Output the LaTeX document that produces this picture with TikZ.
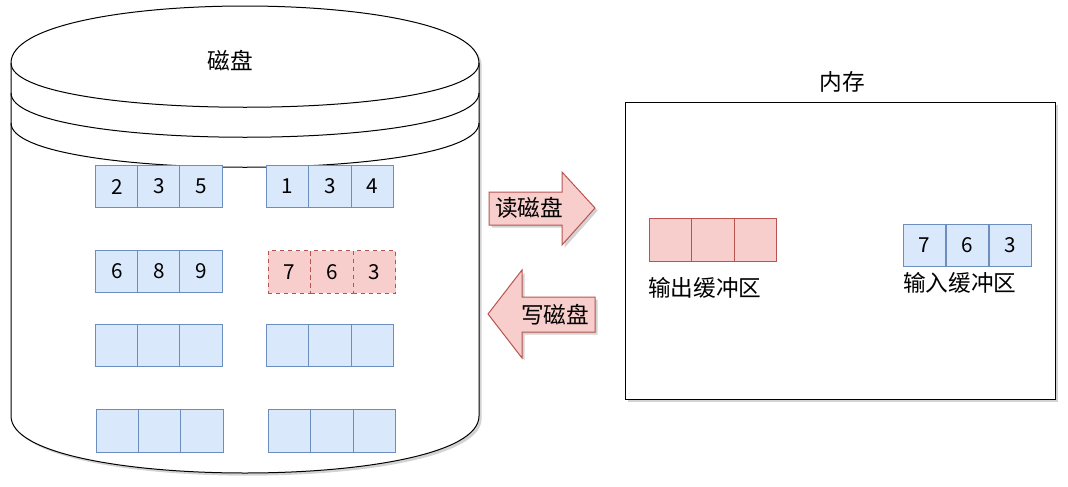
\documentclass[tikz,border=0pt]{standalone}
\usepackage{fontspec}
\setmainfont{Noto Sans CJK SC}
\usetikzlibrary{shadows}
\definecolor{bfill}{HTML}{DAE8FC}
\definecolor{bline}{HTML}{6C8EBF}
\definecolor{rfill}{HTML}{F8CECC}
\definecolor{rline}{HTML}{B85450}
\tikzset{
  shadowed/.style={drop shadow={opacity=0.35,shadow xshift=2pt,shadow yshift=-2pt}},
  cell/.style={draw=bline,fill=bfill,line width=0.75pt,minimum width=31.9pt,minimum height=31.9pt,inner sep=0pt,font=\fontsize{15.5}{17}\selectfont},
  rcell/.style={cell,draw=rline,fill=rfill},
  dcell/.style={rcell,dashed},
  lab/.style={inner sep=0pt,font=\fontsize{17}{20}\selectfont},
  shape line/.style={draw=black,line width=0.75pt},
  arrowshape/.style={draw=rline,fill=rfill,line width=0.75pt,shadowed}
}
\begin{document}
\begin{tikzpicture}[x=0.75pt,y=-0.75pt]
\useasboundingbox (0,0) rectangle (1068,486);
% disk cylinder
\path[shape line,fill=white,shadowed] (11,63) .. controls (11,-13) and (479,-13) .. (479,63) -- (479,416) .. controls (479,492) and (11,492) .. (11,416) -- cycle;
\draw[shape line] (11,63) .. controls (11,122) and (479,122) .. (479,63);
\draw[shape line] (11,93) .. controls (11,152) and (479,152) .. (479,93);
\draw[shape line] (11,123) .. controls (11,182) and (479,182) .. (479,123);
\node[lab] (disk) at (230,61) {磁盘};
% disk cells
\node[cell] (a1) at (117,186.5) {2};
\node[cell] (a2) at (159,186.5) {3};
\node[cell] (a3) at (201,186.5) {5};
\node[cell] (b1) at (287.5,186.5) {1};
\node[cell] (b2) at (330,186.5) {3};
\node[cell] (b3) at (372.5,186.5) {4};
\node[cell] (c1) at (117,271.5) {6};
\node[cell] (c2) at (159,271.5) {8};
\node[cell] (c3) at (201,271.5) {9};
\node[dcell] (d1) at (289.3,272) {7};
\node[dcell] (d2) at (332,272) {6};
\node[dcell] (d3) at (374.7,272) {3};
\node[cell] (e1) at (117,345.5) {};
\node[cell] (e2) at (159,345.5) {};
\node[cell] (e3) at (201,345.5) {};
\node[cell] (f1) at (287.5,345.5) {};
\node[cell] (f2) at (330,345.5) {};
\node[cell] (f3) at (372.5,345.5) {};
\node[cell] (g1) at (117.5,431) {};
\node[cell] (g2) at (159.5,431) {};
\node[cell] (g3) at (202,431) {};
\node[cell] (h1) at (289.3,431) {};
\node[cell] (h2) at (332,431) {};
\node[cell] (h3) at (374.7,431) {};
% arrows
\path[arrowshape] (489,192) -- (562,192) -- (562,172) -- (595,208) -- (562,245) -- (562,225) -- (489,225) -- cycle;
\node[lab] (read) at (529,208) {读磁盘};
\path[arrowshape] (488,314) -- (522,270) -- (522,297) -- (595,297) -- (595,332) -- (522,332) -- (522,358) -- cycle;
\node[lab] (write) at (555,315) {写磁盘};
% memory
\path[draw=black,line width=0.6pt,fill=white,shadowed] (625,102) rectangle (1055,399);
\node[lab] (mem) at (842,82) {内存};
\node[rcell] (o1) at (670.5,240) {};
\node[rcell] (o2) at (713,240) {};
\node[rcell] (o3) at (755.5,240) {};
\node[lab,anchor=west] (olab) at (648,288) {输出缓冲区};
\node[cell] (i1) at (924.5,245.5) {7};
\node[cell] (i2) at (967.5,245.5) {6};
\node[cell] (i3) at (1010.5,245.5) {3};
\node[lab,anchor=west] (ilab) at (903,283) {输入缓冲区};
\end{tikzpicture}
\end{document}
